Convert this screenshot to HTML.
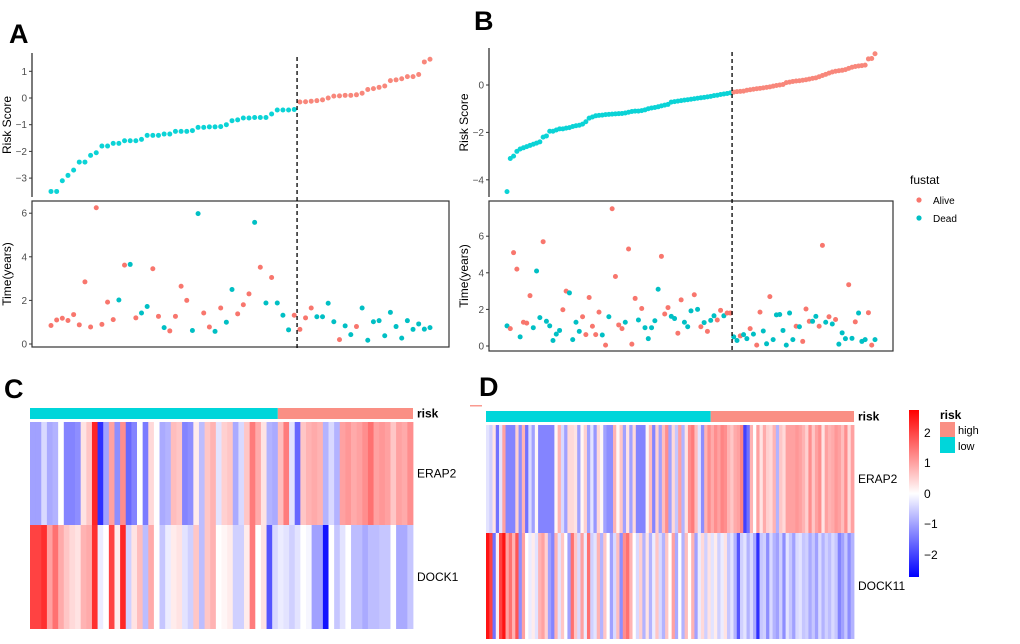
<!DOCTYPE html>
<html><head><meta charset="utf-8"><style>
html,body{margin:0;padding:0;background:#fff;}
svg{display:block;font-family:"Liberation Sans",Arial,sans-serif;}
</style></head><body>
<svg id="fig" width="1020" height="644" viewBox="0 0 1020 644" xmlns="http://www.w3.org/2000/svg">
<g font-weight="bold" font-size="27" fill="#000">
<text x="9" y="43">A</text>
<text x="474" y="30">B</text>
<text x="4" y="398">C</text>
<text x="479" y="396">D</text>
</g>
<g id="gA"></g>
<g id="gB"></g>
<g id="gC"></g>
<g id="gD"></g>
<g>
<text x="910" y="184" font-size="12" fill="#000">fustat</text>
<circle cx="919" cy="200" r="2.6" fill="#F8766D"></circle>
<text x="933" y="204" font-size="10" fill="#000">Alive</text>
<circle cx="919" cy="218" r="2.6" fill="#00BFC4"></circle>
<text x="933" y="222" font-size="10" fill="#000">Dead</text>
</g>
<g>
<defs><linearGradient id="cg" x1="0" y1="0" x2="0" y2="1"><stop offset="0" stop-color="#FF0000"/><stop offset="0.5" stop-color="#FFFFFF"/><stop offset="1" stop-color="#0000FF"/></linearGradient></defs>
<rect x="909" y="410" width="10" height="167" fill="url(#cg)"></rect>
<g font-size="12" fill="#000">
<text x="924" y="437">2</text>
<text x="924" y="467">1</text>
<text x="924" y="498">0</text>
<text x="924" y="528">−1</text>
<text x="924" y="559">−2</text>
</g>
<text x="940" y="419" font-size="12" font-weight="bold">risk</text>
<rect x="940" y="422" width="15" height="15" fill="#FA8F84"></rect>
<text x="958" y="434" font-size="11">high</text>
<rect x="940" y="437" width="15" height="16" fill="#00D6DA"></rect>
<text x="958" y="450" font-size="11">low</text>
<rect x="470" y="405" width="12" height="1.5" fill="#FA9A90"></rect>
</g>
</svg>
<script>
const riskA = [-3.5,-3.5,-3.1,-2.9,-2.7,-2.4,-2.4,-2.15,-2.05,-1.8,-1.8,-1.7,-1.7,-1.6,-1.6,-1.6,-1.55,-1.4,-1.4,-1.4,-1.35,-1.35,-1.25,-1.25,-1.25,-1.22,-1.1,-1.1,-1.08,-1.08,-1.07,-1.0,-0.85,-0.82,-0.75,-0.75,-0.73,-0.73,-0.73,-0.6,-0.45,-0.45,-0.45,-0.43,
-0.15,-0.14,-0.12,-0.1,-0.07,0,0.07,0.08,0.1,0.1,0.12,0.18,0.32,0.35,0.4,0.45,0.65,0.68,0.72,0.8,0.8,0.88,1.35,1.45];
const lowCountA = 44;
const timeA = [0.85,1.1,1.18,1.08,1.35,0.88,2.85,0.78,6.25,0.9,1.92,1.12,2.02,3.62,3.65,1.2,1.42,1.72,3.45,1.27,0.75,0.6,1.27,2.65,2.0,0.62,5.98,1.42,0.78,0.58,1.65,1.0,2.5,1.38,1.8,2.3,5.58,3.52,1.88,3.05,1.88,1.32,0.65,1.32,
0.67,1.2,1.65,1.25,1.25,1.87,1.02,0.2,0.83,0.43,0.8,1.65,0.17,1.02,1.07,0.38,1.45,0.8,0.27,1.07,0.67,0.92,0.68,0.75];
const statusAfull = ['A','A','A','A','A','A','A','A','A','A','A','A','D','A','D','A','D','D','A','A','D','A','A','A','A','D','D','A','A','D','A','D','D','A','A','A','D','A','D','A','D','D','D','A',
'A','A','A','D','D','D','D','A','D','D','A','D','D','D','D','D','D','D','D','D','D','D','D','D'];
const riskB = [-4.5,-3.1,-3.0,-2.8,-2.7,-2.65,-2.6,-2.55,-2.5,-2.45,-2.4,-2.2,-2.15,-1.95,-1.95,-1.9,-1.85,-1.85,-1.82,-1.8,-1.75,-1.72,-1.7,-1.65,-1.55,-1.4,-1.35,-1.3,-1.28,-1.27,-1.25,-1.24,-1.23,-1.22,-1.21,-1.2,-1.18,-1.15,-1.12,-1.1,-1.1,-1.08,-1.05,-1.0,-0.97,-0.95,-0.92,-0.88,-0.85,-0.82,-0.72,-0.7,-0.68,-0.66,-0.64,-0.62,-0.6,-0.58,-0.56,-0.54,-0.52,-0.5,-0.48,-0.45,-0.43,-0.4,-0.38,-0.36,-0.33,
-0.3,-0.28,-0.27,-0.26,-0.22,-0.2,-0.18,-0.16,-0.14,-0.12,-0.1,-0.08,-0.05,-0.02,0.0,0.02,0.1,0.12,0.15,0.17,0.18,0.2,0.22,0.25,0.28,0.3,0.35,0.4,0.45,0.5,0.55,0.58,0.6,0.62,0.65,0.7,0.75,0.78,0.8,0.82,0.84,1.1,1.12,1.32];
const lowCountB = 69;
const timeB = [1.1,0.95,5.1,4.2,0.5,1.3,1.25,2.75,1.0,4.1,1.55,5.7,1.35,1.1,0.3,0.65,0.85,1.98,3.0,2.9,0.35,1.3,0.8,1.6,0.62,2.65,1.08,0.62,1.85,0.6,0.05,1.6,7.5,3.8,1.15,0.95,1.3,5.3,0.1,2.6,1.42,2.05,1.0,0.4,1.0,1.38,3.1,4.9,1.75,2.1,1.62,1.5,0.7,2.52,1.3,1.05,1.92,2.8,2.0,1.05,1.28,0.8,1.4,1.65,1.42,1.95,1.65,1.8,1.8,
0.5,0.3,0.55,0.62,0.4,0.95,0.65,0.05,1.85,0.82,0.12,2.7,0.35,1.7,1.72,0.85,0.05,1.8,0.35,1.08,1.05,0.25,2.02,1.35,1.35,1.62,1.08,5.5,1.3,1.6,1.2,1.45,0.1,0.72,0.4,3.35,0.42,1.32,1.8,0.25,0.35,1.82,0.05,0.35];
const statusB = ['D','A','A','A','D','A','A','A','D','D','D','A','D','D','D','D','D','A','A','D','D','D','D','A','A','A','A','A','A','D','A','D','A','A','A','A','D','A','A','A','D','A','D','D','D','D','D','A','A','A','D','D','A','A','D','D','D','A','D','A','D','A','D','D','A','A','D','A','A',
'D','D','A','D','D','A','D','A','A','D','D','A','D','D','D','D','D','D','D','A','D','A','A','A','D','D','A','A','D','A','D','A','D','D','D','A','D','A','D','D','D','A','A','D'];
const erapC = [-1,-1,-0.4,-0.9,-0.8,0,-1.3,-1.3,-1.2,0.3,0.6,2.3,-2.2,-1,1,-1.2,1.2,-1.6,-1.3,0,-1.4,0.4,0,-0.9,-0.8,0.7,0.6,-1.3,-1.2,0.2,-0.7,0.6,0.8,-0.3,0.5,0.6,-0.9,-0.4,0.6,1.4,0.9,0.3,-0.8,-0.9,
0.7,1.4,-0.3,-1.6,0.6,0.8,0.9,0.8,-0.8,-0.4,-0.8,1.0,1.1,0.9,1.0,1.2,1.5,1.0,1.1,1.0,0.6,1.0,0.9,1.2];
const dockC = [2.0,2.0,2.2,1.0,1.5,0.9,0.6,0.4,0.3,0.8,0.9,2.2,-0.2,0,2.0,0.2,2.3,-0.5,0.3,0.7,-0.7,0.9,0,-0.6,-0.2,0.2,0.3,-0.3,-0.5,0.6,-0.7,0.6,0.8,0,0.1,0.2,-0.5,-0.5,0.2,1.4,0,0.3,-1.8,-0.4,
-0.2,-0.3,-0.5,-0.3,0,-0.1,-1.0,-1.0,-2.5,0,-0.6,-0.3,0,-0.7,-0.7,-0.9,-0.7,-0.7,-0.6,-0.6,0,-0.9,-0.9,-0.6];
const erapD = [-0.3,-0.5,0.3,-1.5,-0.3,1.0,-1.3,-1.3,-1.3,0.5,-1.2,0.8,-1.5,-0.4,-1.0,0.1,-1.3,-1.3,-1.3,-1.3,-1.3,0.1,0.8,-0.4,-1.0,0.4,0.4,0.3,-1.0,0.1,0.5,-1.0,-0.3,-1.1,0.4,0.1,-1.0,-1.2,-1.2,0.8,0.1,0.6,-1.0,0.3,-1.0,0.4,-1.3,-1.3,-1.3,0.1,0.7,-1.3,0.5,-1.0,0.7,1.2,-1.0,0.4,-0.6,1.0,-0.8,0.3,1.2,1.4,0.7,-0.3,-1.2,0.8,1.2,
0.9,1.2,1.0,1.3,1.2,0.8,0.6,0.9,1.0,1.3,-2.0,-1.5,0.8,0,1.0,0.3,0.9,0.5,0.4,0.8,-0.8,0.6,0.4,1.0,1.0,1.0,1.1,1.0,0.8,0.5,1.2,0.6,1.0,1.2,0.3,1.0,0.8,0.9,1.1,1.0,0.7,1.2,0.4,1.0];
const dockD = [2.5,2.0,-1.5,0.2,2.0,2.5,1.0,1.5,0.8,1.8,-1.2,1.0,0,-0.2,0.2,-0.3,0.8,1.0,0.5,-1.0,-1.3,0.8,-0.3,0.6,0,-1.0,1.5,0.6,-0.4,1.0,-0.2,1.5,-0.5,-0.3,0.8,-0.8,0.6,0,-1.0,-0.4,0.7,-1.2,1.2,1.5,0.8,0,-0.4,0.5,-0.8,0.3,-0.8,-0.2,0.6,-0.4,-0.8,0.6,0,1.0,-0.9,0,-0.8,0.7,0,0.8,-1.0,-0.2,0.4,-0.5,0.3,
-0.3,0.2,-0.5,-0.2,0.3,-0.6,-0.3,-0.8,-1.8,-0.5,-0.3,-0.8,-0.4,-0.9,-2.2,-0.6,-0.5,-1.2,-0.4,-0.8,-1.0,-0.5,-1.2,-0.3,-0.6,-1.0,-0.4,-0.3,-0.6,-0.5,-0.9,-0.6,-1.0,-0.4,-0.8,-0.5,-0.7,-0.4,-0.6,-1.3,-1.0,-0.6,-1.2,-0.8];
const ticksRiskA = [1,0,-1,-2,-3];
const ticksTimeA = [6,4,2,0];
const ticksRiskB = [0,-2,-4];
const ticksTimeB = [6,4,2,0];

const NS = "http://www.w3.org/2000/svg";
function mk(parent, tag, attrs){const e=document.createElementNS(NS,tag);for(const k in attrs)e.setAttribute(k,attrs[k]);parent.appendChild(e);return e;}
function heat(v){const m=2.7;let t=Math.max(-1,Math.min(1,v/m));let r,g,b;
 if(t>=0){r=255;g=Math.round(255*(1-t));b=g;}else{b=255;r=Math.round(255*(1+t));g=r;}
 return `rgb(${r},${g},${b})`;}

function scatterPanel(g, cfg){
 const n = cfg.risk.length;
 const xOf = i => cfg.x0 + i*(cfg.x1-cfg.x0)/(n-1);
 const yR = v => cfg.r0 - v*cfg.rs;
 const yT = v => cfg.t0 - v*cfg.ts;
 const ax = mk(g,'line',{x1:cfg.ax,y1:cfg.rTop,x2:cfg.ax,y2:cfg.rBot,stroke:'#333','stroke-width':1.3});
 
 
 cfg.tr.forEach(t=>{
  const tk=mk(g,'line',{x1:cfg.ax-3,y1:yR(t),x2:cfg.ax,y2:yR(t),stroke:'#333'});
  
  
  const tl=mk(g,'text',{x:cfg.ax-5,y:yR(t)+3.5,'text-anchor':'end','font-size':10,fill:'#4d4d4d'});
  tl.textContent = t<0 ? '−'+(-t) : String(t);
  
  
 });
 const rt=mk(g,'text',{x:0,y:0,transform:`translate(${cfg.ax-21},${(cfg.rTop+cfg.rBot)/2}) rotate(-90)`,'text-anchor':'middle','font-size':12,fill:'#000'});
 rt.textContent='Risk Score';
 
 
 const bx=mk(g,'rect',{x:cfg.ax,y:cfg.bTop,width:cfg.bRight-cfg.ax,height:cfg.bBot-cfg.bTop,fill:'none',stroke:'#333','stroke-width':1.2});
 
 
 cfg.tt.forEach(t=>{
  const tk=mk(g,'line',{x1:cfg.ax-3,y1:yT(t),x2:cfg.ax,y2:yT(t),stroke:'#333'});
  
  
  const tl=mk(g,'text',{x:cfg.ax-5,y:yT(t)+3.5,'text-anchor':'end','font-size':10,fill:'#4d4d4d'});
  tl.textContent=String(t);
  
  
 });
 const tt=mk(g,'text',{x:0,y:0,transform:`translate(${cfg.ax-21},${(cfg.bTop+cfg.bBot)/2}) rotate(-90)`,'text-anchor':'middle','font-size':12,fill:'#000'});
 tt.textContent='Time(years)';
 
 
 cfg.risk.forEach((v,i)=>{
  const c=mk(g,'circle',{cx:xOf(i),cy:yR(v),r:2.5,fill:i<cfg.low?'#0BD3D6':'#F8877B'});
  
  
 });
 cfg.time.forEach((v,i)=>{
  const c=mk(g,'circle',{cx:xOf(i),cy:yT(v),r:2.5,fill:cfg.status[i]==='A'?'#F8766D':'#00BFC4'});
  
  
 });
 const dx=(xOf(cfg.low-1)+xOf(cfg.low))/2;
 const dl=mk(g,'line',{x1:dx,y1:cfg.rTop+4,x2:dx,y2:cfg.bBot+1,stroke:'#000','stroke-width':1.3,'stroke-dasharray':'4,3'});
 
 
}
scatterPanel(document.getElementById('gA'),{risk:riskA,time:timeA,status:statusAfull,low:lowCountA,x0:51,x1:430,ax:32,rTop:53,rBot:197,r0:98,rs:26.7,bTop:201,bBot:347,bRight:449,t0:344,ts:21.8,tr:ticksRiskA,tt:ticksTimeA});
scatterPanel(document.getElementById('gB'),{risk:riskB,time:timeB,status:statusB,low:lowCountB,x0:507,x1:875,ax:489,rTop:48,rBot:197,r0:85,rs:23.7,bTop:201,bBot:351,bRight:893,t0:346,ts:18.3,tr:ticksRiskB,tt:ticksTimeB});

function heatPanel(g,cfg){
 const n=cfg.rowA.length;
 const w=(cfg.x1-cfg.x0)/n;
 const lowX = cfg.x0 + cfg.low*w;
 const b1=mk(g,'rect',{x:cfg.x0,y:cfg.by0,width:lowX-cfg.x0,height:cfg.by1-cfg.by0,fill:'#00D6DA'});
 
 
 const b2=mk(g,'rect',{x:lowX,y:cfg.by0,width:cfg.x1-lowX,height:cfg.by1-cfg.by0,fill:'#FA8F84'});
 
 
 [[cfg.rowA,cfg.y0,cfg.ym],[cfg.rowB,cfg.ym,cfg.y1]].forEach(([row,ya,yb])=>{
  const wr=(cfg.x1-cfg.x0)/row.length;
  row.forEach((v,i)=>{
   const r=mk(g,'rect',{x:cfg.x0+i*wr,y:ya,width:wr+0.4,height:yb-ya,fill:heat(v)});
   
   
  });
 });
 const labs=[['risk',(cfg.by0+cfg.by1)/2+4,'bold','risk-annotation-label'],[cfg.nameA,(cfg.y0+cfg.ym)/2+4,'normal','gene-label-erap2'],[cfg.nameB,(cfg.ym+cfg.y1)/2+4,'normal','gene-label-dock']];
 labs.forEach(([t,y,fw,nm])=>{
  const e=mk(g,'text',{x:cfg.x1+4,y:y,'font-size':12,'font-weight':fw,fill:'#000'});
  e.textContent=t;
  
  
 });
}
heatPanel(document.getElementById('gC'),{rowA:erapC,rowB:dockC,low:lowCountA,x0:30,x1:413,by0:408,by1:419,y0:422,ym:525,y1:629,nameA:'ERAP2',nameB:'DOCK1'});
heatPanel(document.getElementById('gD'),{rowA:erapD,rowB:dockD,low:lowCountB,x0:486,x1:854,by0:411,by1:422,y0:425,ym:533,y1:639,nameA:'ERAP2',nameB:'DOCK11'});
</script>
</body></html>
